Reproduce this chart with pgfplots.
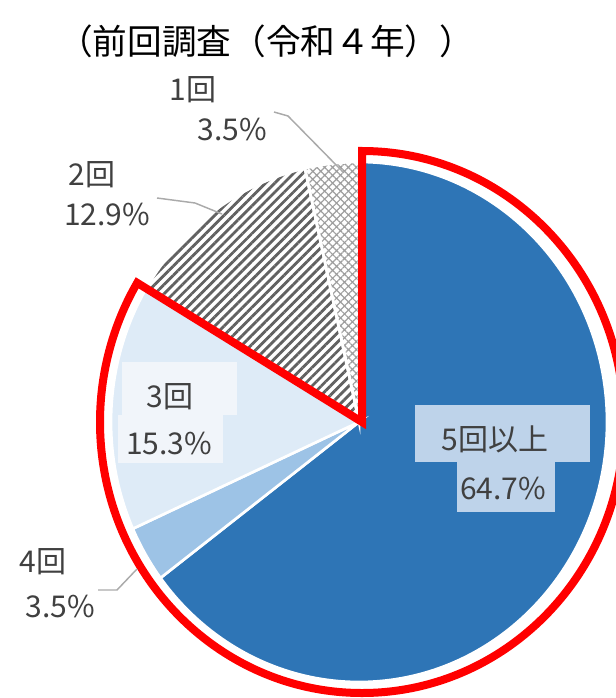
\documentclass[border=0pt]{standalone}
\usepackage{pgfplots}
\pgfplotsset{compat=1.18}
\usepackage{pgfplotstable}
\usepackage{fontspec}
\setmainfont{Noto Sans CJK JP}
\usetikzlibrary{patterns.meta}

\definecolor{blueA}{RGB}{46,117,182}
\definecolor{blueB}{RGB}{157,195,230}
\definecolor{blueC}{RGB}{222,235,247}
\definecolor{boxA}{RGB}{190,211,234}
\definecolor{boxC}{RGB}{241,245,250}
\definecolor{txt}{RGB}{64,64,64}
\definecolor{leader}{RGB}{170,170,170}

% share of respondents, clockwise from 12 o'clock
\pgfplotstableread{
label value
5回以上 64.7
4回 3.5
3回 15.3
2回 12.9
1回 3.5
}\piedata

% one wedge: start angle, end angle, style
\newcommand\slice[3]{%
  \path[#3] (axis cs:359,422) -- ++(#1:186pt and 195pt)
    arc[start angle=#1, end angle=#2, x radius=186pt, y radius=195pt] -- cycle;}

\begin{document}
\begin{tikzpicture}[lab/.style={font=\fontsize{22.5}{26}\selectfont, text=txt, inner sep=0pt}]
\pgfplotstablegetelem{0}{value}\of\piedata\let\vA\pgfplotsretval
\pgfplotstablegetelem{1}{value}\of\piedata\let\vB\pgfplotsretval
\pgfplotstablegetelem{2}{value}\of\piedata\let\vC\pgfplotsretval
\pgfplotstablegetelem{3}{value}\of\piedata\let\vD\pgfplotsretval
\pgfplotstablegetelem{4}{value}\of\piedata\let\vE\pgfplotsretval
\pgfmathsetmacro\vsum{\vA+\vB+\vC+\vD+\vE}
\pgfmathsetmacro\degper{360/\vsum}
\pgfmathsetmacro\aA{90}
\pgfmathsetmacro\aB{\aA-\degper*\vA}
\pgfmathsetmacro\aC{\aB-\degper*\vB}
\pgfmathsetmacro\aD{\aC-\degper*\vC}
\pgfmathsetmacro\aE{\aD-\degper*\vD}
\pgfmathsetmacro\aF{\aE-\degper*\vE}
\begin{axis}[
  scale only axis, width=462pt, height=523.5pt,
  xmin=0, xmax=616, ymin=0, ymax=698, y dir=reverse,
  hide axis, clip=false,
]
\slice{\aA}{\aB}{fill=blueA, draw=white, line width=2pt}
\slice{\aB}{\aC}{fill=blueB, draw=white, line width=2pt}
\slice{\aC}{\aD}{fill=blueC, draw=white, line width=2pt}
\slice{\aD}{\aE}{pattern={Lines[angle=45,distance=4.9pt,line width=2.1pt]}, pattern color=black!62}
\slice{\aE}{\aF}{pattern={Hatch[angle=45,distance=4.2pt,line width=0.9pt]}, pattern color=black!38}
\slice{\aD}{\aE}{draw=white, line width=2pt}
\slice{\aE}{\aF}{draw=white, line width=2pt}

% highlighted group: 3 or more times
\draw[red, line width=6pt, line join=miter] (axis cs:362,422) -- ++(90:196.5pt and 203.25pt)
  arc[start angle=90, end angle=\aD, x radius=196.5pt, y radius=203.25pt] -- cycle;

% leader lines
\draw[leader, line width=1.1pt] (axis cs:274,112) -- (axis cs:288,116) -- (axis cs:343,172);
\draw[leader, line width=1.1pt] (axis cs:157,198) -- (axis cs:195,203) -- (axis cs:222,214);
\draw[leader, line width=1.1pt] (axis cs:98,590) -- (axis cs:117,590) -- (axis cs:137,569);

% label boxes
\fill[boxA] (axis cs:415,405) rectangle (axis cs:590,462);
\fill[boxA] (axis cs:457,462) rectangle (axis cs:555,512);
\fill[boxC] (axis cs:122,362) rectangle (axis cs:237,415);
\fill[boxC] (axis cs:118,415) rectangle (axis cs:223,463);

\node[lab] at (axis cs:495,439) {5回以上};
\node[lab] at (axis cs:503,488) {64.7\%};
\node[lab] at (axis cs:170,397) {3回};
\node[lab] at (axis cs:169,444) {15.3\%};
\node[lab] at (axis cs:43,562) {4回};
\node[lab] at (axis cs:60,606) {3.5\%};
\node[lab] at (axis cs:92,175) {2回};
\node[lab] at (axis cs:107,215) {12.9\%};
\node[lab] at (axis cs:193,90) {1回};
\node[lab] at (axis cs:232,130) {3.5\%};

\node[font=\fontsize{26}{30}\selectfont, inner sep=0pt] at (axis cs:266,41) {（前回調査（令和４年））};
\end{axis}
\pgfresetboundingbox
\path[use as bounding box] (current axis.south west) rectangle (current axis.north east);
\end{tikzpicture}
\end{document}
